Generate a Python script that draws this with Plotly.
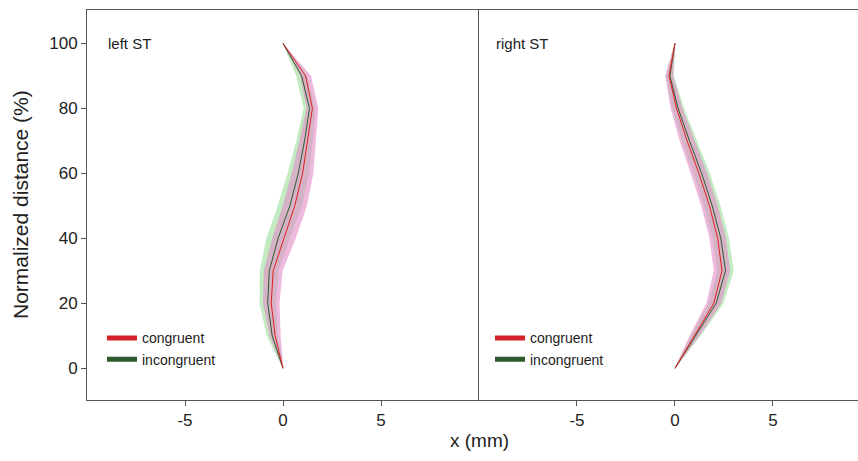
import plotly.graph_objects as go

# Normalized distance levels (%)
levels = [0, 10, 20, 30, 40, 50, 60, 70, 80, 90, 100]

# left ST mean x (mm)
left_cong = [0, -0.40, -0.60, -0.50, 0.05, 0.60, 1.00, 1.25, 1.50, 1.15, 0]
left_incong = [0, -0.55, -0.78, -0.70, -0.25, 0.35, 0.78, 1.10, 1.35, 0.95, 0]
left_cong_sd = [0.02, 0.28, 0.42, 0.48, 0.60, 0.62, 0.55, 0.42, 0.30, 0.28, 0.02]
left_incong_sd = [0.02, 0.28, 0.42, 0.48, 0.60, 0.62, 0.55, 0.42, 0.30, 0.28, 0.02]

# right ST mean x (mm)
right_cong = [0, 1.00, 1.98, 2.40, 2.18, 1.76, 1.22, 0.62, 0.08, -0.30, 0]
right_incong = [0, 1.06, 2.10, 2.58, 2.34, 1.90, 1.36, 0.74, 0.16, -0.26, 0]
right_cong_sd = [0.02, 0.25, 0.38, 0.42, 0.42, 0.42, 0.42, 0.38, 0.30, 0.20, 0.02]
right_incong_sd = [0.02, 0.25, 0.38, 0.42, 0.42, 0.42, 0.42, 0.38, 0.30, 0.20, 0.02]

x_tickvals = [-5, 0, 5]
x_ticktext = ["-5", "0", "5"]
y_tickvals = [0, 20, 40, 60, 80, 100]
panel_titles = ["left ST", "right ST"]
series_names = ["congruent", "incongruent"]

RED = "#e0201e"
GREEN = "#2f5a2f"
RED_FILL = "rgba(225,140,200,0.6)"
GREEN_FILL = "rgba(120,210,120,0.45)"
LEG_RED = "#d42027"
LEG_GREEN = "#2e5a2e"

fig = go.Figure()


def band(mean, sd, color, xa, ya):
    upper = [m + s for m, s in zip(mean, sd)]
    lower = [m - s for m, s in zip(mean, sd)]
    fig.add_trace(go.Scatter(
        x=upper + lower[::-1], y=levels + levels[::-1],
        fill="toself", fillcolor=color, line=dict(width=0),
        mode="lines", hoverinfo="skip", showlegend=False,
        xaxis=xa, yaxis=ya))


panels = [
    (left_cong, left_incong, left_cong_sd, left_incong_sd, "x", "y", "legend"),
    (right_cong, right_incong, right_cong_sd, right_incong_sd, "x2", "y2", "legend2"),
]

for cong, incong, csd, isd, xa, ya, leg in panels:
    band(incong, isd, GREEN_FILL, xa, ya)
    band(cong, csd, RED_FILL, xa, ya)
    fig.add_trace(go.Scatter(x=incong, y=levels, mode="lines",
                             line=dict(color=GREEN, width=1),
                             showlegend=False, xaxis=xa, yaxis=ya))
    fig.add_trace(go.Scatter(x=cong, y=levels, mode="lines",
                             line=dict(color=RED, width=1),
                             showlegend=False, xaxis=xa, yaxis=ya))
    # legend entries
    for name, col in zip(series_names, [LEG_RED, LEG_GREEN]):
        fig.add_trace(go.Scatter(x=[None], y=[None], mode="lines", name=name,
                                 line=dict(color=col, width=5),
                                 legend=leg, xaxis=xa, yaxis=ya))

FONT = "Liberation Sans, Arial, sans-serif"
split = 392 / 771
LINEC = "#555"

axis_common = dict(showline=True, linecolor=LINEC, linewidth=1,
                   showgrid=False, zeroline=False, ticks="outside",
                   ticklen=5, tickcolor=LINEC,
                   tickfont=dict(size=17, color="#222", family=FONT))

fig.update_layout(
    width=858, height=461,
    margin=dict(l=87, r=0, t=10, b=61),
    paper_bgcolor="white", plot_bgcolor="white",
    font=dict(family=FONT, color="#222"),
    xaxis=dict(domain=[0, split], range=[-10, 10], tickvals=x_tickvals,
               ticktext=x_ticktext, mirror=True, anchor="y", **axis_common),
    xaxis2=dict(domain=[split, 1], range=[-10, 9.34], tickvals=x_tickvals,
                ticktext=x_ticktext, mirror=True, anchor="y2", **axis_common),
    yaxis=dict(range=[-9.75, 110.25], tickvals=y_tickvals,
               anchor="x", **axis_common),
    yaxis2=dict(range=[-9.75, 110.25], tickvals=y_tickvals, showticklabels=False,
                anchor="x2", showline=True, linecolor=LINEC, linewidth=1,
                showgrid=False, zeroline=False, ticks=""),
    legend=dict(x=15 / 771, y=0.199, xanchor="left", yanchor="top",
                font=dict(size=14, color="#222", family=FONT),
                bgcolor="rgba(0,0,0,0)", tracegroupgap=0),
    legend2=dict(x=split + 11 / 771, y=0.199, xanchor="left", yanchor="top",
                 font=dict(size=14, color="#222", family=FONT),
                 bgcolor="rgba(0,0,0,0)", tracegroupgap=0),
    showlegend=True,
)

fig.add_annotation(text=panel_titles[0], xref="paper", yref="paper",
                   x=19 / 771, y=(400 - 43) / 390, xanchor="left", yanchor="middle",
                   showarrow=False, font=dict(size=15, color="#222", family=FONT))
fig.add_annotation(text=panel_titles[1], xref="paper", yref="paper",
                   x=split + 15 / 771, y=(400 - 43) / 390, xanchor="left", yanchor="middle",
                   showarrow=False, font=dict(size=15, color="#222", family=FONT))
fig.add_annotation(text="x (mm)", xref="paper", yref="paper",
                   x=392 / 771, y=-40 / 390, xanchor="center", yanchor="middle",
                   showarrow=False, font=dict(size=19, color="#222", family=FONT))
fig.add_annotation(text="Normalized distance (%)", xref="paper", yref="paper",
                   x=-67 / 771, y=0.5, xanchor="center", yanchor="middle", textangle=-90,
                   showarrow=False, font=dict(size=21, color="#222", family=FONT))

fig.write_html("out.html")
